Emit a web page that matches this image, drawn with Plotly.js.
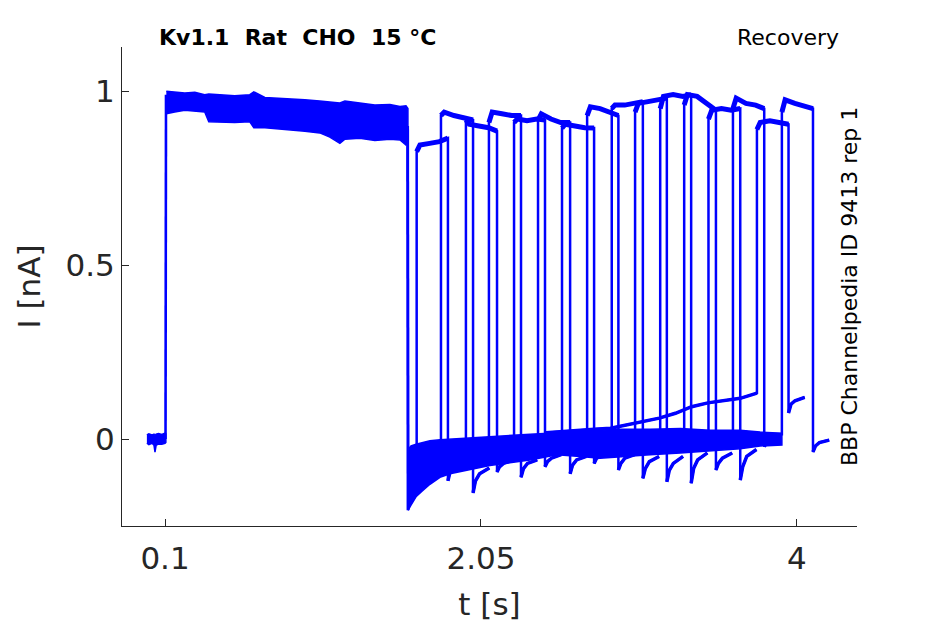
<!DOCTYPE html>
<html><head><meta charset="utf-8">
<script src="https://cdn.plot.ly/plotly-3.0.1.min.js"></script>
<style>html,body{margin:0;padding:0;background:#fff}#chart{width:945px;height:624px}</style>
</head><body><div id="chart"></div>
<script>
const blue = '#0000ff';
const ink = '#262626';

// holding current before the first step (band of overlapping sweeps)
const holdT  = [-0.012, 0.000, 0.020, 0.032, 0.038, 0.045, 0.060, 0.080, 0.100, 0.105];
const holdHi = [0.012, 0.015, 0.012, 0.014, 0.010, 0.014, 0.016, 0.013, 0.017, 0.015];
const holdLo = [-0.012, -0.016, -0.012, -0.018, -0.038, -0.018, -0.014, -0.015, -0.012, -0.010];

// onset of the first step
const onsetT = [0.103, 0.106];
const onsetI = [0.0, 0.99];

// first step: envelope of the overlapping sweeps
const p1T  = [0.108, 0.160, 0.222, 0.284, 0.345, 0.370, 0.438, 0.530, 0.623, 0.648, 0.716, 0.808, 0.870, 0.963, 1.055, 1.117, 1.179, 1.210, 1.302, 1.395, 1.488, 1.550, 1.587, 1.599];
const p1Hi = [1.000, 0.997, 0.995, 0.997, 0.990, 0.992, 0.990, 0.987, 0.990, 0.998, 0.982, 0.980, 0.978, 0.975, 0.972, 0.970, 0.966, 0.972, 0.965, 0.960, 0.962, 0.956, 0.958, 0.950];
const p1Lo = [0.935, 0.940, 0.945, 0.943, 0.940, 0.912, 0.912, 0.910, 0.912, 0.895, 0.895, 0.892, 0.888, 0.885, 0.880, 0.868, 0.850, 0.862, 0.865, 0.858, 0.862, 0.860, 0.845, 0.850];

// end of the first step
const dropT = [1.597, 1.600];
const dropI = [0.90, -0.205];

// recovery interval: envelope of the overlapping sweeps
const gapT  = [1.600, 1.618, 1.649, 1.686, 1.735, 1.797, 1.859, 1.920, 2.000, 2.105, 2.229, 2.353, 2.519, 2.661, 2.785, 2.908, 3.094, 3.280, 3.465, 3.650, 3.773, 3.907];
const gapLo = [-0.205, -0.190, -0.166, -0.150, -0.130, -0.110, -0.100, -0.094, -0.086, -0.076, -0.068, -0.060, -0.045, -0.050, -0.055, -0.052, -0.045, -0.040, -0.035, -0.028, -0.020, -0.017];
const gapHi = [-0.030, -0.020, -0.015, -0.010, -0.005, -0.002, 0.000, 0.000, 0.003, 0.006, 0.010, 0.014, 0.018, 0.022, 0.025, 0.028, 0.028, 0.030, 0.025, 0.025, 0.020, 0.017];

// drifting baseline of sweep 15
const driftT = [2.450, 2.550, 2.650, 2.750, 2.850, 2.950, 3.050, 3.150, 3.250, 3.350, 3.450, 3.550, 3.650, 3.753];
const driftI = [0.018, 0.022, 0.025, 0.028, 0.031, 0.040, 0.050, 0.060, 0.074, 0.093, 0.104, 0.110, 0.117, 0.132];

// second (test) step of each sweep
const riseT = [1.653, 1.803, 1.957, 2.099, 2.254, 2.402, 2.550, 2.705, 2.857, 3.001, 3.156, 3.304, 3.454, 3.605, 3.753, 3.907];
const fallT = [1.846, 2.001, 2.149, 2.297, 2.445, 2.600, 2.748, 2.898, 3.049, 3.197, 3.347, 3.500, 3.650, 3.798, 3.948, 4.099];
const gapEndI = [-0.060, -0.020, -0.015, -0.010, -0.010, -0.005, 0.000, 0.000, 0.000, 0.005, 0.000, 0.005, 0.000, 0.005, 0.132, 0.010];
const p2Phase = [0.0, 0.02, 0.08, 0.14];
const p2Start = [0.826, 0.930, 0.917, 0.910, 0.910, 0.917, 0.894, 0.930, 0.950, 0.940, 0.950, 0.960, 0.920, 0.950, 0.890, 0.940];
const p2Early = [0.845, 0.940, 0.905, 0.940, 0.920, 0.935, 0.905, 0.955, 0.960, 0.965, 0.985, 0.990, 0.945, 0.980, 0.910, 0.975];
const p2Mid   = [0.850, 0.930, 0.900, 0.935, 0.915, 0.920, 0.900, 0.950, 0.960, 0.970, 0.990, 0.985, 0.950, 0.965, 0.915, 0.965];
const p2Late  = [0.855, 0.925, 0.895, 0.930, 0.920, 0.910, 0.895, 0.940, 0.965, 0.975, 0.985, 0.965, 0.945, 0.960, 0.910, 0.955];
const p2End   = [0.865, 0.917, 0.885, 0.930, 0.917, 0.910, 0.894, 0.930, 0.970, 0.980, 0.990, 0.945, 0.950, 0.950, 0.905, 0.950];

// tail current after the second step
const tailPhase = [0.0, 0.015, 0.04, 0.10];
const tail0 = [-0.120, -0.155, -0.095, -0.110, -0.080, -0.100, -0.070, -0.089, -0.113, -0.123, -0.127, -0.089, -0.118, -0.022, 0.075, -0.037];
const tail1 = [-0.090, -0.120, -0.080, -0.085, -0.065, -0.075, -0.055, -0.070, -0.085, -0.090, -0.085, -0.070, -0.080, -0.010, 0.100, -0.020];
const tail2 = [-0.080, -0.100, -0.070, -0.070, -0.055, -0.060, -0.050, -0.055, -0.065, -0.070, -0.060, -0.055, -0.050, -0.005, 0.110, -0.010];
const tail3 = [-0.070, -0.083, -0.060, -0.060, -0.045, -0.050, -0.040, -0.045, -0.050, -0.050, -0.040, -0.040, -0.030, 0.000, 0.120, -0.003];

// axis ticks
const xTicks = [0.1, 2.05, 4];
const xTickText = ['0.1', '2.05', '4'];
const yTicks = [0, 0.5, 1];
const yTickText = ['0', '0.5', '1'];

function band(t, lo, hi) {
  return {
    x: t.concat(t.slice().reverse()),
    y: hi.concat(lo.slice().reverse()),
    type: 'scatter', mode: 'lines', fill: 'toself', fillcolor: blue,
    line: {color: blue, width: 1.5}, hoverinfo: 'skip', showlegend: false
  };
}
function line(x, y, w) {
  return {x: x, y: y, type: 'scatter', mode: 'lines',
    line: {color: blue, width: w}, hoverinfo: 'skip', showlegend: false};
}

const traces = [];
traces.push(band(holdT, holdLo, holdHi));
traces.push(line(onsetT, onsetI, 2.6));
traces.push(band(p1T, p1Lo, p1Hi));
traces.push(line(dropT, dropI, 3));
traces.push(band(gapT, gapLo, gapHi));

for (let k = 0; k < riseT.length; k++) {
  const xs = [], ys = [];
  if (k === 14) { xs.push(...driftT); ys.push(...driftI); }
  else { xs.push(riseT[k]); ys.push(gapEndI[k]); }
  const lv = [p2Start[k], p2Early[k], p2Mid[k], p2Late[k]];
  const px = [], py = [];
  for (let j = 0; j < p2Phase.length; j++) {
    xs.push(riseT[k] + p2Phase[j]); ys.push(lv[j]);
    px.push(riseT[k] + p2Phase[j]); py.push(lv[j]);
  }
  xs.push(fallT[k]); ys.push(p2End[k]);
  px.push(fallT[k]); py.push(p2End[k]);
  const tv = [tail0[k], tail1[k], tail2[k], tail3[k]];
  const tx = [], ty = [];
  for (let j = 0; j < tailPhase.length; j++) {
    xs.push(fallT[k] + tailPhase[j]); ys.push(tv[j]);
    tx.push(fallT[k] + tailPhase[j]); ty.push(tv[j]);
  }
  traces.push(line(xs, ys, 2.5));
  traces.push(line(px, py, 5));
  traces.push(line(tx, ty, 3.5));
  if (k === 14) traces.push(line(driftT, driftI, 3.5));
}

const font = 'DejaVu Sans, Liberation Sans, sans-serif';
const layout = {
  width: 945, height: 624,
  margin: {l: 122, r: 88, t: 47, b: 98, pad: 0},
  paper_bgcolor: '#ffffff', plot_bgcolor: '#ffffff',
  showlegend: false, hovermode: false,
  font: {family: font, color: ink},
  xaxis: {
    range: [-0.1656, 4.3706], tickvals: xTicks, ticktext: xTickText,
    ticks: 'inside', ticklen: 7, tickwidth: 1, tickcolor: ink,
    showline: true, linecolor: ink, linewidth: 1, mirror: false,
    showgrid: false, zeroline: false, ticklabelstandoff: 5,
    tickfont: {family: font, size: 31, color: ink},
    title: {text: 't [s]', font: {family: font, size: 31, color: ink}, standoff: 18}
  },
  yaxis: {
    range: [-0.25, 1.127], tickvals: yTicks, ticktext: yTickText,
    ticks: 'inside', ticklen: 7, tickwidth: 1, tickcolor: ink,
    showline: true, linecolor: ink, linewidth: 1, mirror: false,
    showgrid: false, zeroline: false,
    tickfont: {family: font, size: 31, color: ink},
    title: {text: 'I [nA]', font: {family: font, size: 31, color: ink}, standoff: 15}
  },
  annotations: [
    {text: '<b>Kv1.1\u00a0\u00a0Rat\u00a0\u00a0CHO\u00a0\u00a015\u00a0°C</b>', xref: 'paper', yref: 'paper',
     x: 0.048, y: 1.019, xanchor: 'left', yanchor: 'middle', showarrow: false,
     font: {family: font, size: 22, color: '#000000'}},
    {text: 'Recovery', xref: 'paper', yref: 'paper',
     x: 0.978, y: 1.019, xanchor: 'right', yanchor: 'middle', showarrow: false,
     font: {family: font, size: 22, color: '#000000'}},
    {text: 'BBP Channelpedia ID 9413 rep 1', xref: 'paper', yref: 'paper',
     x: 0.9905, y: 0.499, xanchor: 'center', yanchor: 'middle', showarrow: false, textangle: -90,
     font: {family: font, size: 22, color: '#000000'}}
  ]
};
Plotly.newPlot('chart', traces, layout, {displayModeBar: false, staticPlot: true});
</script>
</body></html>
